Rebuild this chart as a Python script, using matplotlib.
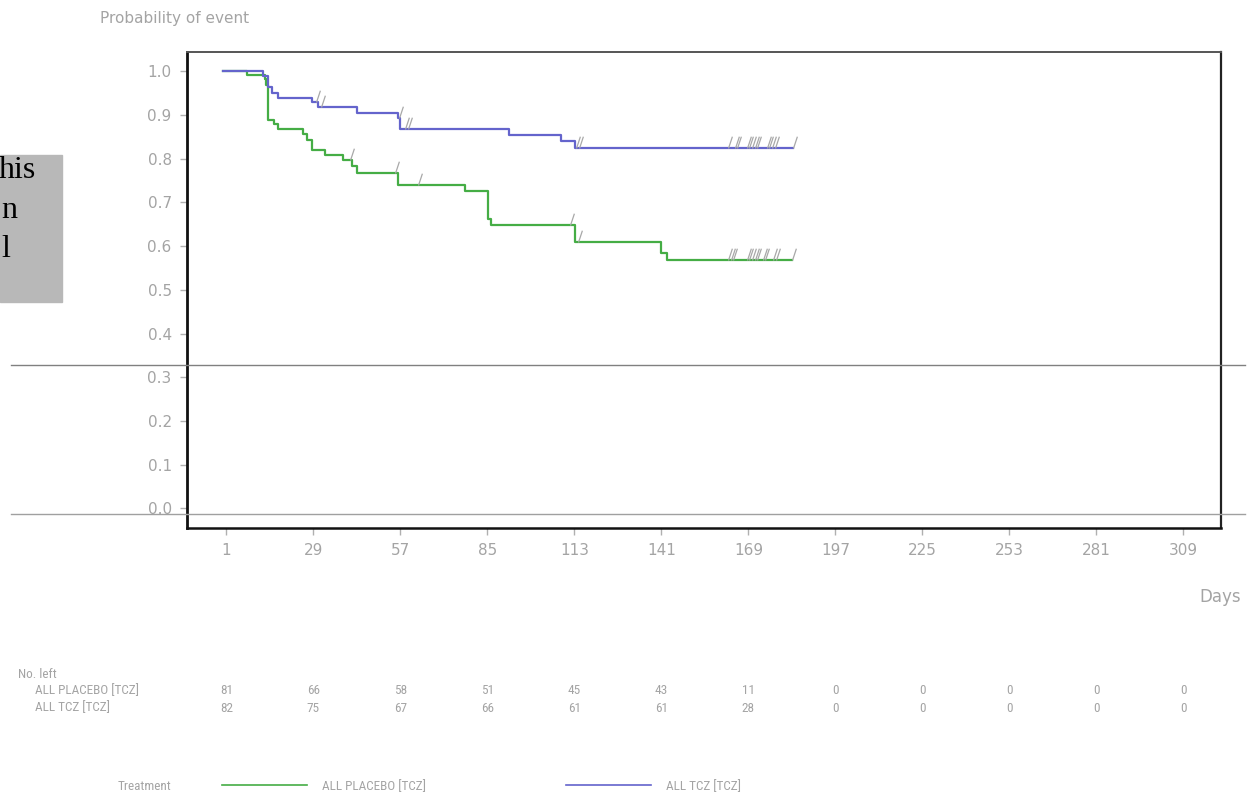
import numpy as np
import matplotlib
matplotlib.use("Agg")
import matplotlib.pyplot as plt
from matplotlib.lines import Line2D
from matplotlib.patches import Rectangle
from matplotlib.path import Path
from matplotlib.markers import MarkerStyle
from matplotlib.transforms import blended_transform_factory
from matplotlib import font_manager
from matplotlib.font_manager import FontProperties

# ---- data ----
placebo_t = [0, 7.5, 13.4, 13.7, 14.5, 16.4, 17.7, 25.7, 26.8, 28.4, 32.7,
             38.6, 41.3, 42.9, 56.3, 77.8, 85.3, 86.0, 113.2, 140.7, 142.7]
placebo_s = [1.0, 0.991, 0.983, 0.968, 0.889, 0.880, 0.867, 0.857, 0.842,
             0.819, 0.808, 0.796, 0.783, 0.766, 0.739, 0.727, 0.662, 0.648,
             0.609, 0.583, 0.568]
placebo_cens = [40.7, 55.2, 62.7, 111.6, 114.2, 162.5, 163.3, 164.1, 168.4,
                169.3, 170.1, 171.0, 171.8, 173.6, 174.4, 177.0, 177.9, 182.9]

tcz_t = [0, 12.8, 14.5, 15.5, 17.7, 28.6, 30.5, 42.9, 56.3, 56.8, 91.9,
         108.6, 113.2]
tcz_s = [1.0, 0.988, 0.963, 0.951, 0.939, 0.930, 0.918, 0.905, 0.892,
         0.867, 0.854, 0.841, 0.824]
tcz_cens = [29.9, 31.3, 56.6, 58.4, 59.5, 113.5, 114.6, 162.5, 164.7, 165.4,
            168.4, 169.3, 170.1, 171.0, 171.8, 174.9, 175.7, 176.6, 177.4,
            183.4]

day_ticks = [1, 29, 57, 85, 113, 141, 169, 197, 225, 253, 281, 309]
n_left_placebo = [81, 66, 58, 51, 45, 43, 11, 0, 0, 0, 0, 0]
n_left_tcz = [82, 75, 67, 66, 61, 61, 28, 0, 0, 0, 0, 0]
prob_ticks = [0.0, 0.1, 0.2, 0.3, 0.4, 0.5, 0.6, 0.7, 0.8, 0.9, 1.0]

GREEN = "#45ad45"
BLUE = "#6464cc"
GREY_TXT = "#a4a4a4"

W, H = 1254, 799


def narrow_font(size):
    """Pick a condensed sans if one is installed, else plain Liberation Sans."""
    fonts = font_manager.fontManager.ttflist
    names = {f.name for f in fonts}
    for fam in ["Liberation Sans Narrow", "Roboto Condensed", "Open Sans Condensed"]:
        if fam in names:
            return FontProperties(family=fam, size=size)
    for f in fonts:
        if f.name == "DejaVu Sans" and "condensed" in str(f.stretch) and f.weight in (400, "normal"):
            return FontProperties(fname=f.fname, size=size)
    return FontProperties(family="Liberation Sans", size=size)


SMALL = narrow_font(9.5)


def fx(px):
    return px / W


def fy(py):
    return 1 - py / H


fig = plt.figure(figsize=(W / 100, H / 100), dpi=100)
fig.patch.set_facecolor("white")
ax = fig.add_axes([fx(187), fy(527.7), fx(1221) - fx(187), fy(52.3) - fy(527.7)])

# slash-shaped censor marker rising from the curve
cens_marker = MarkerStyle(Path([(0, 0), (0.33, 1)], [Path.MOVETO, Path.LINETO]))


def draw_km(t, s, cens, color):
    end = max(cens)
    ax.step(list(t) + [end], list(s) + [s[-1]], where="post",
            color=color, lw=1.6, zorder=3)
    idx = np.searchsorted(t, cens, side="right") - 1
    levels = np.asarray(s)[idx]
    ax.plot(cens, levels, linestyle="none", marker=cens_marker, markersize=17,
            markeredgecolor="#a8a8a8", markerfacecolor="none", mew=0.9, zorder=4)


draw_km(placebo_t, placebo_s, placebo_cens, GREEN)
draw_km(tcz_t, tcz_s, tcz_cens, BLUE)

ax.set_xlim(-11.7, 321.1)
ax.set_ylim(-0.044, 1.043)
ax.set_xticks(day_ticks)
ax.set_xticklabels([str(d) for d in day_ticks])
ax.set_yticks(prob_ticks)
ax.set_yticklabels([f"{p:.1f}" for p in prob_ticks])
ax.tick_params(axis="both", colors="#b0b0b0", labelcolor=GREY_TXT,
               labelsize=11, length=5, width=1)
ax.tick_params(axis="x", pad=6)
ax.tick_params(axis="y", pad=6)
for side, lw, col in [("left", 2.0, "#111111"), ("bottom", 1.8, "#111111"),
                      ("right", 1.6, "#222222"), ("top", 1.4, "#555555")]:
    ax.spines[side].set_linewidth(lw)
    ax.spines[side].set_color(col)

fig.text(fx(100), fy(18), "Probability of event", fontsize=11, color=GREY_TXT,
         ha="left", va="center")
fig.text(fx(1241), fy(597), "Days", fontsize=12, color=GREY_TXT,
         ha="right", va="center")

# scan artefacts: page rules and the cut-off grey box on the left
for py, col in [(365, "#808080"), (514, "#a0a0a0")]:
    fig.add_artist(Line2D([fx(11), fx(1245)], [fy(py), fy(py)],
                          transform=fig.transFigure, color=col, lw=1.0, zorder=10))
fig.add_artist(Rectangle((0, fy(301.7)), fx(61.7), fy(155) - fy(301.7),
                         transform=fig.transFigure, color="#b8b8b8", zorder=1))
fig.text(fx(36), fy(178), "his", fontsize=23, family="Liberation Serif",
         color="black", ha="right", va="baseline", zorder=2)
fig.text(fx(1), fy(218), "n", fontsize=23, family="Liberation Serif",
         color="black", ha="left", va="baseline", zorder=2)
fig.text(fx(1), fy(257), "l", fontsize=23, family="Liberation Serif",
         color="black", ha="left", va="baseline", zorder=2)

# number-at-risk table
tx = blended_transform_factory(ax.transData, fig.transFigure)
fig.text(fx(18), fy(674), "No. left", fontproperties=SMALL,
         color=GREY_TXT, ha="left", va="center")
fig.text(fx(35), fy(691), "ALL PLACEBO [TCZ]", fontproperties=SMALL,
         color=GREY_TXT, ha="left", va="center")
fig.text(fx(35), fy(708), "ALL TCZ [TCZ]", fontproperties=SMALL,
         color=GREY_TXT, ha="left", va="center")
for d, a, b in zip(day_ticks, n_left_placebo, n_left_tcz):
    fig.text(d, fy(691), str(a), transform=tx, fontproperties=SMALL,
             color=GREY_TXT, ha="center", va="center")
    fig.text(d, fy(708), str(b), transform=tx, fontproperties=SMALL,
             color=GREY_TXT, ha="center", va="center")

# legend
fig.text(fx(118), fy(787), "Treatment", fontproperties=SMALL,
         color=GREY_TXT, ha="left", va="center")
for x0, col, lab in [(222, GREEN, "ALL PLACEBO [TCZ]"), (566, BLUE, "ALL TCZ [TCZ]")]:
    fig.add_artist(Line2D([fx(x0), fx(x0 + 85)], [fy(785), fy(785)],
                          transform=fig.transFigure, color=col, lw=1.2))
    fig.text(fx(x0 + 100), fy(787), lab, fontproperties=SMALL,
             color=GREY_TXT, ha="left", va="center")

fig.savefig("out.png", dpi=100)
